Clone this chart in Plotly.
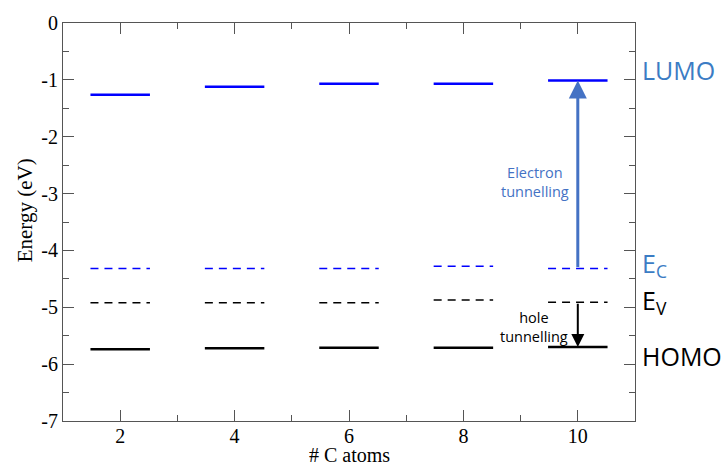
import plotly.graph_objects as go

# ---- data ----
carbons = [2, 4, 6, 8, 10]
lumo = [-1.26, -1.12, -1.07, -1.07, -1.01]
e_c = [-4.32, -4.32, -4.32, -4.28, -4.32]
e_v = [-4.92, -4.92, -4.92, -4.87, -4.91]
homo = [-5.74, -5.72, -5.71, -5.71, -5.70]
y_tickvals = [0, -1, -2, -3, -4, -5, -6, -7]
y_ticktext = ["0", "-1", "-2", "-3", "-4", "-5", "-6", "-7"]
x_tickvals = [2, 4, 6, 8, 10]
x_ticktext = ["2", "4", "6", "8", "10"]
half_w = 0.52

def segs(ys):
    xs, yy = [], []
    for c, v in zip(carbons, ys):
        xs += [c - half_w, c + half_w, None]
        yy += [v, v, None]
    return xs, yy

fig = go.Figure()
for ys, color, width, dash in [
    (lumo, "#0000ff", 2.5, "solid"),
    (e_c, "#0000ff", 1.5, "8px,6px"),
    (e_v, "#000000", 1.5, "8px,6px"),
    (homo, "#000000", 2.5, "solid"),
]:
    xs, yy = segs(ys)
    fig.add_trace(go.Scatter(x=xs, y=yy, mode="lines",
                             line=dict(color=color, width=width, dash=dash),
                             showlegend=False, hoverinfo="skip"))

arrow_blue = "#4472C4"
label_blue = "#3B7CC4"
cal = "Open Sans, Lato, sans-serif"
annotations = [
    dict(x=carbons[-1], y=lumo[-1], ax=carbons[-1], ay=e_c[-1], xref="x", yref="y",
         axref="x", ayref="y", showarrow=True, arrowhead=2, arrowsize=1.2,
         arrowwidth=3, arrowcolor=arrow_blue, text=""),
    dict(x=carbons[-1], y=homo[-1], ax=carbons[-1], ay=e_v[-1], xref="x", yref="y",
         axref="x", ayref="y", showarrow=True, arrowhead=2, arrowsize=1.3,
         arrowwidth=2, arrowcolor="#000000", text=""),
    dict(x=9.26, y=-2.79, xref="x", yref="y", text="Electron<br>tunnelling",
         showarrow=False, font=dict(family=cal, size=14.5, color=arrow_blue), align="center"),
    dict(x=9.24, y=-5.34, xref="x", yref="y", text="hole<br>tunnelling",
         showarrow=False, font=dict(family=cal, size=14.5, color="#000000"), align="center"),
    dict(x=1.008, y=-0.82, xref="paper", yref="y", text="LUMO", xanchor="left",
         showarrow=False, font=dict(family=cal, size=25, color=label_blue)),
    dict(x=1.008, y=-4.24, xref="paper", yref="y", text="E<sub>C</sub>", xanchor="left",
         showarrow=False, font=dict(family=cal, size=25, color=label_blue)),
    dict(x=1.008, y=-4.9, xref="paper", yref="y", text="E<sub>V</sub>", xanchor="left",
         showarrow=False, font=dict(family=cal, size=25, color="#000000")),
    dict(x=1.008, y=-5.86, xref="paper", yref="y", text="HOMO", xanchor="left",
         showarrow=False, font=dict(family=cal, size=25, color="#000000")),
    dict(x=-0.066, y=0.53, xref="paper", yref="paper", text="Energy (eV)", textangle=-90,
         xanchor="center", yanchor="middle",
         showarrow=False, font=dict(family="Liberation Serif", size=21, color="#000000")),
    dict(x=0.5, y=-0.086, xref="paper", yref="paper", text="# C atoms", xanchor="center",
         yanchor="middle",
         showarrow=False, font=dict(family="Liberation Serif", size=20, color="#000000")),
]

axis_common = dict(showgrid=False, zeroline=False, showline=True, linecolor="#555555",
                   linewidth=1, mirror="ticks", ticks="inside", ticklen=11,
                   tickcolor="#555555", tickwidth=1,
                   tickfont=dict(family="Liberation Serif", size=20, color="#000000"))

fig.update_layout(
    width=724, height=466,
    margin=dict(l=63, r=89, t=20, b=45),
    plot_bgcolor="white", paper_bgcolor="white",
    xaxis=dict(range=[1, 11], tickvals=x_tickvals, ticktext=x_ticktext,
               ticklabelstandoff=-3,
               minor=dict(ticks="inside", ticklen=6, dtick=1, tick0=1,
                          tickcolor="#555555"), **axis_common),
    yaxis=dict(range=[-7, 0], tickvals=y_tickvals, ticktext=y_ticktext,
               minor=dict(ticks="inside", ticklen=6, dtick=0.5, tick0=0,
                          tickcolor="#555555"), **axis_common),
    annotations=annotations,
)

fig.write_html("out.html")
